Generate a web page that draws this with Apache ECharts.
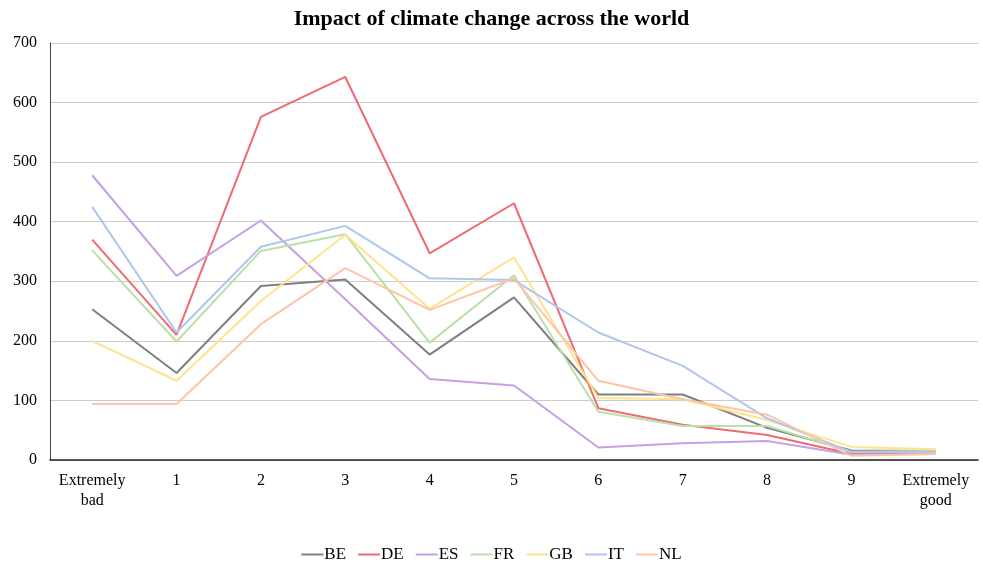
<!DOCTYPE html>
<html>
<head>
<meta charset="utf-8">
<script src="https://cdn.jsdelivr.net/npm/echarts@6/dist/echarts.min.js"></script>
<style>
  html, body { margin: 0; padding: 0; background: #fff; }
  #chart { width: 983px; height: 570px; }
</style>
</head>
<body>
<div id="chart"></div>
<script>
// Rating scale from "Extremely bad" to "Extremely good"
const categories = ['Extremely\nbad', '1', '2', '3', '4', '5', '6', '7', '8', '9', 'Extremely\ngood'];

// Responses per rating, by country
const BE = [253, 146, 292, 303, 177, 273, 110, 110, 54, 16, 15];
const DE = [370, 210, 576, 643, 347, 431, 87, 59, 42, 10, 11];
const ES = [478, 309, 402, 270, 136, 125, 21, 28, 32, 9, 10];
const FR = [352, 199, 351, 379, 197, 310, 81, 57, 57, 14, 15];
const GB = [200, 133, 267, 378, 254, 340, 104, 102, 67, 22, 18];
const IT = [425, 214, 358, 393, 305, 302, 214, 158, 70, 13, 14];
const NL = [94, 94, 228, 322, 252, 305, 133, 102, 76, 7, 10];

const yTicks = { min: 0, max: 700, interval: 100 };

const seriesDefs = [
  { name: 'BE', data: BE, color: '#7f7f7f' },
  { name: 'DE', data: DE, color: '#ef6a72' },
  { name: 'ES', data: ES, color: '#c5a0e2' },
  { name: 'FR', data: FR, color: '#b9e0a9' },
  { name: 'GB', data: GB, color: '#ffe38c' },
  { name: 'IT', data: IT, color: '#b0c6ec' },
  { name: 'NL', data: NL, color: '#fcc6a6' }
];

const serif = '"Liberation Serif", "Times New Roman", serif';

const chart = echarts.init(document.getElementById('chart'), null, { renderer: 'canvas' });
chart.setOption({
  animation: false,
  backgroundColor: '#ffffff',
  title: {
    text: 'Impact of climate change across the world',
    left: 'center',
    top: 3,
    textStyle: { fontFamily: serif, fontSize: 22, fontWeight: 'bold', color: '#000' }
  },
  legend: {
    bottom: 2,
    left: 'center',
    icon: 'rect',
    itemWidth: 22,
    itemHeight: 2,
    itemGap: 12,
    textStyle: { fontFamily: serif, fontSize: 17, color: '#000', padding: [0, 0, 0, -4] },
    data: seriesDefs.map(s => s.name)
  },
  grid: { left: 50, right: 5, top: 43, bottom: 110, containLabel: false },
  xAxis: {
    type: 'category',
    data: categories,
    boundaryGap: true,
    axisLine: { lineStyle: { color: '#222', width: 1.5 } },
    axisTick: { show: false },
    axisLabel: { fontFamily: serif, fontSize: 16, color: '#000', margin: 11, lineHeight: 20, interval: 0 }
  },
  yAxis: {
    type: 'value',
    min: yTicks.min,
    max: yTicks.max,
    interval: yTicks.interval,
    axisLine: { show: true, lineStyle: { color: '#444', width: 1 } },
    axisTick: { show: false },
    splitLine: { lineStyle: { color: '#cccccc', width: 1 } },
    axisLabel: { fontFamily: serif, fontSize: 16, color: '#000', margin: 13 }
  },
  series: seriesDefs.map(s => ({
    name: s.name,
    type: 'line',
    data: s.data,
    symbol: 'none',
    color: s.color,
    lineStyle: { color: s.color, width: 2 }
  }))
});
</script>
</body>
</html>
